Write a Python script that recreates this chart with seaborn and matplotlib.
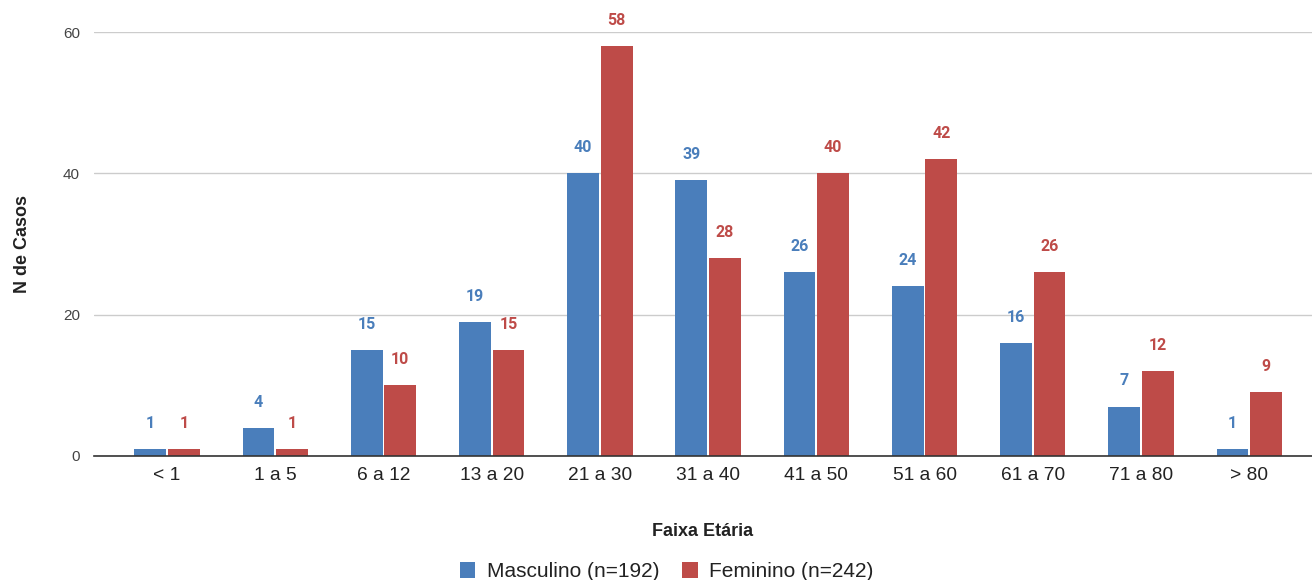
import matplotlib
matplotlib.use("Agg")
import matplotlib.pyplot as plt
import seaborn as sns
import pandas as pd

categories = ["< 1", "1 a 5", "6 a 12", "13 a 20", "21 a 30", "31 a 40",
              "41 a 50", "51 a 60", "61 a 70", "71 a 80", "> 80"]
masculino = [1, 4, 15, 19, 40, 39, 26, 24, 16, 7, 1]
feminino = [1, 1, 10, 15, 58, 28, 40, 42, 26, 12, 9]
series_names = ["Masculino (n=192)", "Feminino (n=242)"]
colors = ["#4a7ebb", "#be4b48"]
yticks = [0, 20, 40, 60]

sns.set_theme(style="white")
plt.rcParams['font.family'] = ['Liberation Sans', 'DejaVu Sans']

df = pd.DataFrame({
    "Faixa": categories * 2,
    "Casos": masculino + feminino,
    "Sexo": [series_names[0]] * len(categories) + [series_names[1]] * len(categories),
})

fig = plt.figure(figsize=(13.12, 5.8), dpi=100)
ax = fig.add_axes([0.0716, 0.2138, 0.9284, 0.731])

sns.barplot(data=df, x="Faixa", y="Casos", hue="Sexo", order=categories,
            hue_order=series_names, palette=colors, width=0.62, gap=0.05,
            ax=ax, saturation=1, linewidth=0, errorbar=None)

for cont, col in zip(ax.containers, colors):
    labels = [f"{int(v)}" for v in cont.datavalues]
    ax.bar_label(cont, labels=labels, padding=13, color=col, fontsize=11.5,
                 fontweight="bold", family=["Roboto", "DejaVu Sans"], clip_on=False)

ax.set_ylim(0, 60)
ax.set_xlim(-0.675, 10.58)
ax.set_yticks(yticks)
ax.set_yticklabels([str(t) for t in yticks])
ax.yaxis.grid(True, color="#cccccc", linewidth=1)
ax.set_axisbelow(True)
for s in ["top", "right", "left"]:
    ax.spines[s].set_visible(False)
ax.spines["bottom"].set_color("#333333")
ax.spines["bottom"].set_linewidth(1.2)
ax.tick_params(axis="x", length=0, labelsize=13.8, colors="#222222", pad=8)
ax.tick_params(axis="y", length=0, labelsize=11, colors="#444444", pad=10)

ax.set_xlabel("Faixa Etária", fontsize=13, fontweight="bold", color="#222222", labelpad=28)
ax.set_ylabel("N de Casos", fontsize=13, fontweight="bold", color="#222222")
ax.yaxis.set_label_coords(-0.052, 0.5)

handles, lbls = ax.get_legend_handles_labels()
ax.get_legend().remove()
fig.legend(handles, lbls, loc="center", bbox_to_anchor=(0.508, 0.014), ncol=2,
           frameon=False, fontsize=15, handlelength=0.75, handleheight=0.75,
           columnspacing=1.1, handletextpad=0.55, labelcolor="#222222",
           borderpad=0.0)

fig.savefig("out.png", dpi=100)
